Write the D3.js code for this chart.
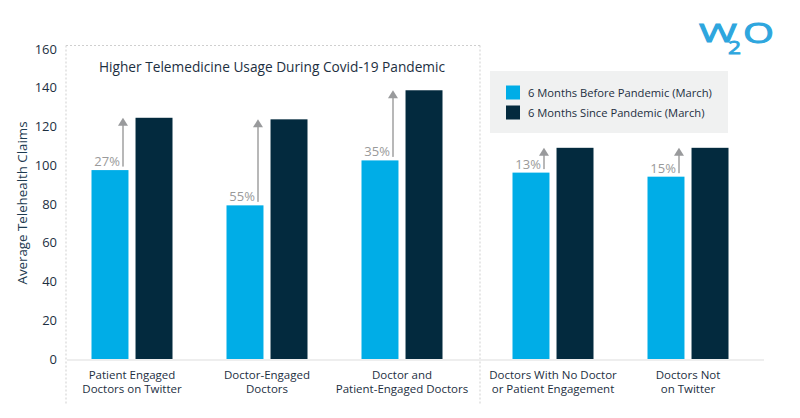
<!DOCTYPE html>
<html><head><meta charset="utf-8">
<script src="https://cdn.jsdelivr.net/npm/d3@7"></script>
<style>
html,body{margin:0;padding:0;background:#fff;}
svg{display:block;}
text{font-family:"Open Sans",sans-serif;}
</style></head>
<body>
<svg id="chart" width="800" height="418"></svg>
<script>
const leftCategories = [["Patient Engaged","Doctors on Twitter"],["Doctor-Engaged","Doctors"],["Doctor and","Patient-Engaged Doctors"]];
const rightCategories = [["Doctors With No Doctor","or Patient Engagement"],["Doctors Not","on Twitter"]];
const seriesNames = ["6 Months Before Pandemic (March)","6 Months Since Pandemic (March)"];
const beforeValues = [97.5, 79.3, 102.5, 96.2, 94.1];
const sinceValues = [124.5, 123.7, 138.7, 109, 109];
const pctLabels = ["27%","55%","35%","13%","15%"];
const yTicks = [0,20,40,60,80,100,120,140,160];
const title = "Higher Telemedicine Usage During Covid-19 Pandemic";
const yLabel = "Average Telehealth Claims";

const colors = ["#00ade7","#032a3e"];
const svg = d3.select("#chart");

const y = d3.scaleLinear().domain([0,160]).range([359,49]);
const xLeft = d3.scaleBand().domain(d3.range(3)).range([64.5,469.5]);
const xRight = d3.scaleBand().domain(d3.range(2)).range([485.5,755.5]);
const xInner = d3.scaleBand().domain([0,1]).range([-40.5,40.5]).paddingInner(0.16);

const groups = [];
leftCategories.forEach((c,i)=>groups.push({label:c, cx:xLeft(i)+xLeft.bandwidth()/2}));
rightCategories.forEach((c,i)=>groups.push({label:c, cx:xRight(i)+xRight.bandwidth()/2}));
groups.forEach((g,i)=>{g.before=beforeValues[i]; g.since=sinceValues[i]; g.pct=pctLabels[i];});

// frame (dashed)
const frame = svg.append("g").attr("stroke","#cfcfcf").attr("stroke-dasharray","2,2").attr("stroke-width",1).attr("fill","none");
frame.append("line").attr("x1",66).attr("x2",480).attr("y1",45.5).attr("y2",45.5);
frame.append("line").attr("x1",66).attr("x2",66).attr("y1",45.5).attr("y2",404);
frame.append("line").attr("x1",480).attr("x2",480).attr("y1",45.5).attr("y2",404);

// baseline
svg.append("line").attr("x1",67).attr("x2",764).attr("y1",y(0)+1).attr("y2",y(0)+1)
  .attr("stroke","#eeeeee").attr("stroke-width",2);

// y axis ticks
const yAxis = d3.axisLeft(y).tickValues(yTicks).tickSize(0).tickPadding(0);
const ya = svg.append("g").attr("transform","translate(57,0)").call(yAxis);
ya.select(".domain").remove();
ya.selectAll("text").attr("font-family","'Open Sans',sans-serif").attr("font-size",13).attr("fill","#1d2f3f");

// y label
svg.append("text").attr("transform","translate(27,203) rotate(-90)").attr("text-anchor","middle")
  .attr("font-size",13.3).attr("fill","#1d3a50").text(yLabel);

// title
svg.append("text").attr("x",272).attr("y",71.5).attr("text-anchor","middle")
  .attr("font-size",13.7).attr("fill","#1d2f3f").text(title);

// bars
groups.forEach(g=>{
  [g.before,g.since].forEach((v,j)=>{
    svg.append("rect").attr("x",g.cx+xInner(j)).attr("width",xInner.bandwidth())
      .attr("y",y(v)).attr("height",y(0)-y(v)).attr("fill",colors[j]);
  });
  const ax = g.cx + xInner(0) + xInner.bandwidth() - 5.5;
  const top = y(g.since);
  svg.append("line").attr("x1",ax).attr("x2",ax).attr("y1",y(g.before)-3.5).attr("y2",top+7)
    .attr("stroke","#b8b8b8").attr("stroke-width",2);
  svg.append("path").attr("d",`M${ax},${top} L${ax+5},${top+8} L${ax-5},${top+8} Z`).attr("fill","#999a9c");
  svg.append("text").attr("x",ax-3).attr("y",y(g.before)-4).attr("text-anchor","end")
    .attr("font-size",13).attr("fill","#9a9a9a").text(g.pct);
  g.label.forEach((l,k)=>{
    svg.append("text").attr("x",g.cx).attr("y",379+k*13.5).attr("text-anchor","middle")
      .attr("font-family","Roboto,sans-serif").attr("font-size",11.5).attr("fill","#1d2f3f").text(l);
  });
});

// legend
svg.append("rect").attr("x",490).attr("y",71).attr("width",238).attr("height",62).attr("fill","#f0f1f1");
seriesNames.forEach((s,i)=>{
  svg.append("rect").attr("x",506).attr("y",85.5+i*20).attr("width",14).attr("height",14).attr("fill",colors[i]);
  svg.append("text").attr("x",528).attr("y",96.5+i*20).attr("font-size",11.2).attr("fill","#1d2f3f").text(s);
});

// logo
const logoG = svg.append("g").attr("fill","#2ea6de").attr("stroke","#2ea6de").attr("stroke-width",0.9)
  .attr("font-family","'DejaVu Sans',sans-serif");
logoG.append("text").attr("x",699).attr("y",42).attr("font-size",26)
  .attr("textLength",38).attr("lengthAdjust","spacingAndGlyphs").text("W");
logoG.append("text").attr("x",728).attr("y",53.5).attr("font-size",19)
  .attr("textLength",13).attr("lengthAdjust","spacingAndGlyphs").text("2");
logoG.append("text").attr("x",743).attr("y",42.5).attr("font-size",27)
  .attr("textLength",31).attr("lengthAdjust","spacingAndGlyphs").text("O");
</script>
</body></html>
